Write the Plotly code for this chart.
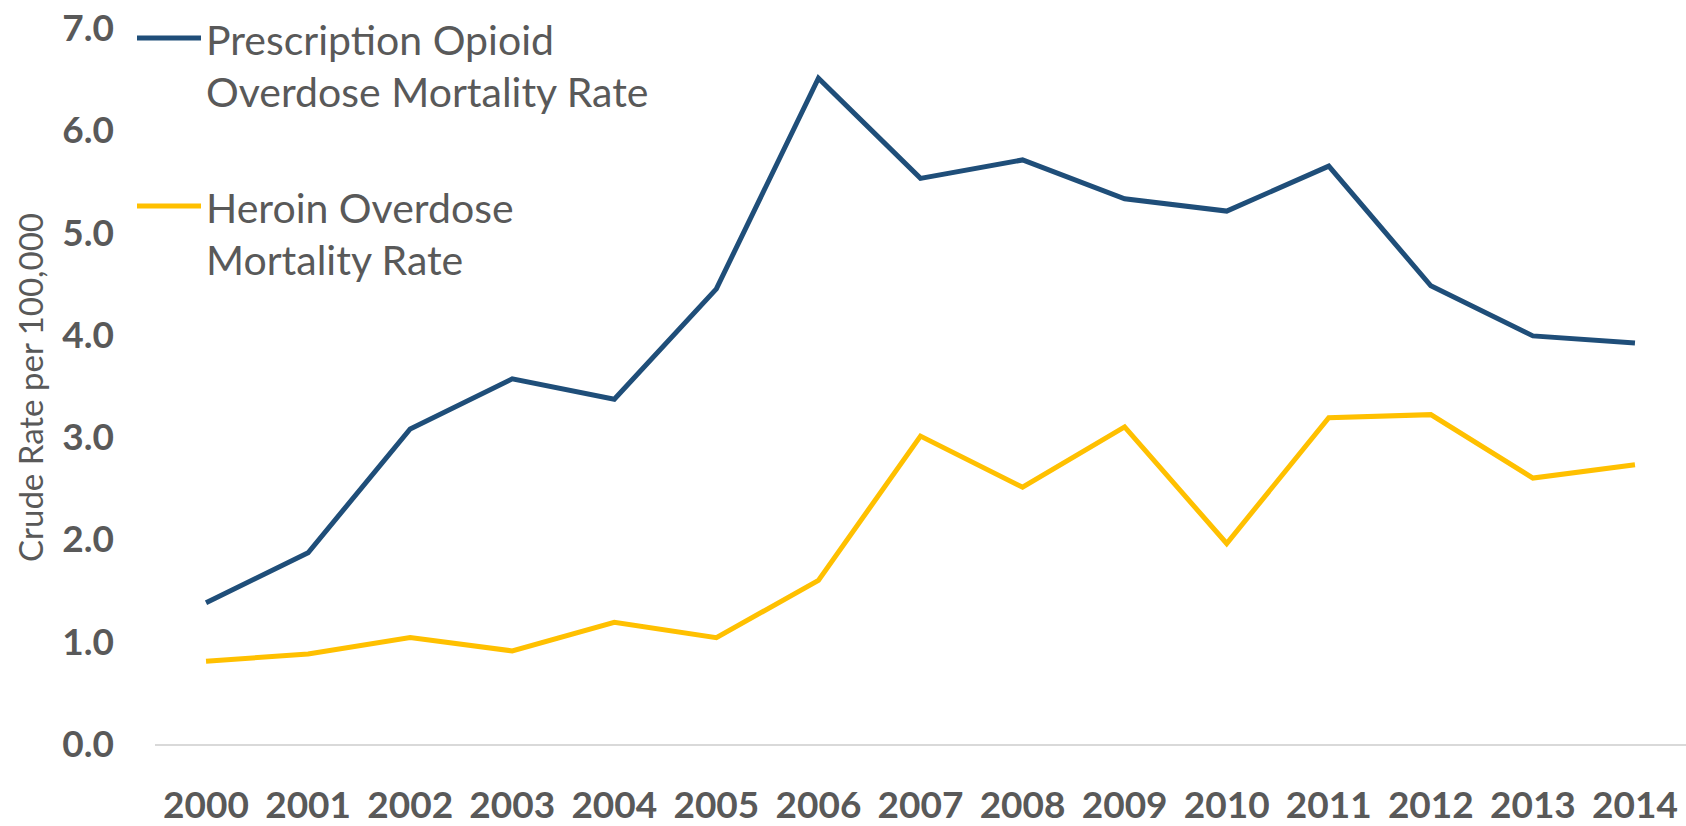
import plotly.graph_objects as go

years = ["2000", "2001", "2002", "2003", "2004", "2005", "2006", "2007",
         "2008", "2009", "2010", "2011", "2012", "2013", "2014"]
rx_opioid = [1.38, 1.87, 3.08, 3.57, 3.37, 4.45, 6.51, 5.53, 5.71, 5.33, 5.21, 5.65, 4.48, 3.99, 3.92]
heroin = [0.81, 0.88, 1.04, 0.91, 1.19, 1.04, 1.60, 3.01, 2.51, 3.10, 1.96, 3.19, 3.22, 2.60, 2.73]
series_names = ["Prescription Opioid", "Overdose Mortality Rate", "Heroin Overdose", "Mortality Rate"]
y_ticks = [0, 1, 2, 3, 4, 5, 6, 7]

BLUE = "#1F4E79"
YELLOW = "#FFC000"
GREY = "#595959"
FONT = "Lato"

W, H = 1686, 826
L, R, T, B = 155, 0, 28, 74
pw, ph = W - L - R, H - T - B

def px(x):
    return (x - L) / pw

def py(y):
    return (H - B - y) / ph

fig = go.Figure()
fig.add_trace(go.Scatter(x=years, y=rx_opioid, mode="lines",
                         line=dict(color=BLUE, width=5), showlegend=False))
fig.add_trace(go.Scatter(x=years, y=heroin, mode="lines",
                         line=dict(color=YELLOW, width=5), showlegend=False))

# custom legend
for color, ly in [(BLUE, 38), (YELLOW, 208)]:
    fig.add_shape(type="line", xref="paper", yref="paper",
                  x0=px(137), x1=px(201), y0=py(ly), y1=py(ly),
                  line=dict(color=color, width=5))
for text, ty in zip(series_names, [40, 92, 210, 262]):
    fig.add_annotation(text=text, xref="paper", yref="paper", x=px(204), y=py(ty),
                       xanchor="left", yanchor="middle", showarrow=False,
                       font=dict(family=FONT, size=41, color=GREY))

fig.add_annotation(text="Crude Rate per 100,000", xref="paper", yref="paper",
                   x=px(30), y=py(392), xanchor="center", yanchor="middle",
                   textangle=-90, showarrow=False,
                   font=dict(family=FONT, size=33, color=GREY))

fig.update_layout(
    width=W, height=H,
    margin=dict(l=L, r=R, t=T, b=B, pad=0),
    plot_bgcolor="white", paper_bgcolor="white",
    font=dict(family=FONT, color=GREY),
)
fig.update_xaxes(type="category", range=[-0.5, 14.5], showgrid=False,
                 showline=True, linecolor="#D9D9D9", linewidth=2,
                 ticks="", ticklabelstandoff=28,
                 tickfont=dict(family=FONT, size=37, color=GREY, weight="bold"))
fig.update_yaxes(range=[0, 7], tickvals=y_ticks, tickformat=".1f",
                 showgrid=False, zeroline=False, showline=False, ticks="",
                 ticklabelstandoff=40,
                 tickfont=dict(family=FONT, size=37, color=GREY, weight="bold"))

fig.write_html("out.html")
